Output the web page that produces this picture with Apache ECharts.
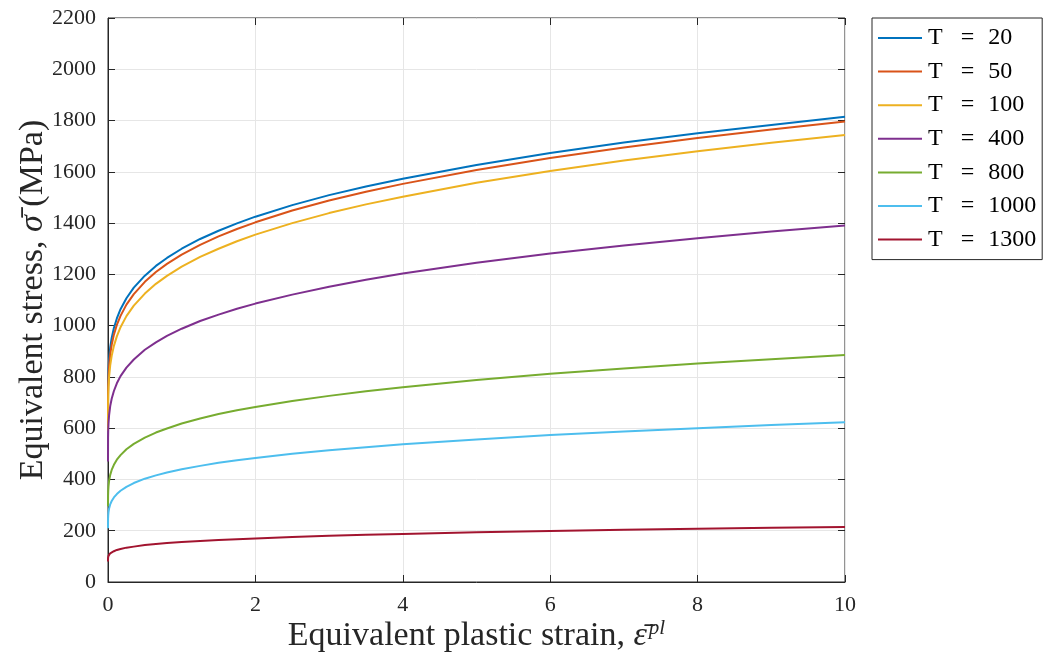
<!DOCTYPE html>
<html><head><meta charset="utf-8">
<script src="https://cdn.jsdelivr.net/npm/echarts@6/dist/echarts.min.js"></script>
<style>html,body{margin:0;padding:0;background:#fff}#c{width:1048px;height:658px}</style>
</head><body><div id="c"></div>
<script>
// ---- data ----
const strain = [0, 0.001, 0.003, 0.007, 0.015, 0.03, 0.05, 0.08, 0.12, 0.17, 0.25, 0.35, 0.5, 0.65, 0.8, 1, 1.25, 1.5, 1.75, 2, 2.5, 3, 3.5, 4, 5, 6, 7, 8, 9, 10];
const seriesNames = ['T = 20', 'T = 50', 'T = 100', 'T = 400', 'T = 800', 'T = 1000', 'T = 1300'];
const stressT20   = [640, 757, 794, 831, 871, 915, 952, 991, 1028, 1064, 1107, 1148, 1195, 1233, 1264, 1300, 1338, 1370, 1399, 1425, 1470, 1509, 1543, 1573, 1627, 1673, 1714, 1750, 1783, 1815];
const stressT50   = [610, 729, 766, 803, 843, 888, 925, 965, 1003, 1038, 1082, 1123, 1171, 1209, 1241, 1277, 1315, 1348, 1377, 1403, 1449, 1488, 1522, 1553, 1607, 1654, 1695, 1732, 1765, 1796];
const stressT100  = [590, 687, 724, 761, 801, 845, 882, 921, 958, 994, 1037, 1078, 1125, 1163, 1194, 1230, 1268, 1300, 1329, 1355, 1400, 1439, 1473, 1503, 1557, 1603, 1644, 1680, 1713, 1744];
const stressT400  = [470, 562, 591, 620, 651, 686, 715, 745, 775, 803, 836, 868, 906, 935, 960, 988, 1018, 1043, 1066, 1086, 1121, 1152, 1179, 1203, 1245, 1281, 1313, 1341, 1367, 1391];
const stressT800  = [295, 336, 355, 374, 395, 418, 437, 457, 477, 495, 518, 539, 563, 583, 599, 618, 638, 655, 670, 683, 706, 726, 744, 760, 788, 812, 833, 852, 869, 885];
const stressT1000 = [210, 247, 260, 273, 287, 303, 316, 330, 343, 356, 371, 386, 403, 416, 427, 440, 453, 465, 475, 484, 500, 514, 526, 537, 556, 573, 587, 600, 612, 623];
const stressT1300 = [80, 94, 98, 102, 107, 112, 116, 120, 125, 129, 134, 138, 144, 148, 152, 156, 160, 164, 167, 170, 176, 180, 184, 187, 194, 199, 204, 208, 212, 215];
const xTickInterval = 2, xMin = 0, xMax = 10;
const yTickInterval = 200, yMin = 0, yMax = 2200;

// ---- styles ----
const allStress = [stressT20, stressT50, stressT100, stressT400, stressT800, stressT1000, stressT1300];
const colors = ['#0072BD', '#D95319', '#EDB120', '#7E2F8E', '#77AC30', '#4DBEEE', '#A2142F'];
const F = '"Liberation Serif", "Times New Roman", serif';
const INK = '#262626';
const GRID = '#e6e6e6';

const chart = echarts.init(document.getElementById('c'), null, {renderer: 'canvas'});

const series = allStress.map((vals, k) => ({
  name: seriesNames[k],
  type: 'line',
  xAxisIndex: 0, yAxisIndex: 0,
  data: strain.map((x, i) => [x, vals[i]]),
  symbol: 'none',
  showSymbol: false,
  smooth: false,
  lineStyle: {color: colors[k], width: 2, join: 'round'},
  itemStyle: {color: colors[k]},
  z: 3 + k,
  animation: false
}));

const baseAxis = (min, max, interval) => ({
  type: 'value', min, max, interval,
  axisLine: {show: true, onZero: false, lineStyle: {color: INK, width: 1}},
  axisTick: {show: true, inside: true, length: 7, lineStyle: {color: INK, width: 1}},
  minorTick: {show: false},
  splitLine: {show: false}
});

const option = {
  animation: false,
  backgroundColor: '#ffffff',
  color: colors,
  grid: {left: 108, right: 203, top: 18, bottom: 76, containLabel: false,
         show: true, borderColor: INK, borderWidth: 1, backgroundColor: 'transparent'},
  legend: {
    orient: 'vertical',
    left: 872, top: 18,
    data: seriesNames,
    icon: 'rect',
    itemWidth: 44, itemHeight: 2, itemGap: 9.6,
    padding: [8, 6, 8, 6],
    borderColor: INK, borderWidth: 1, backgroundColor: '#fff',
    formatter: n => n.replace(' = ', ' \u2002=\u2002\u200A'),
    textStyle: {fontFamily: F, fontSize: 24, color: '#000', lineHeight: 24, padding: [0, 0, 0, 1]},
    selectedMode: false
  },
  xAxis: [
    Object.assign(baseAxis(xMin, xMax, xTickInterval), {
      position: 'bottom',
      axisLabel: {color: INK, fontFamily: F, fontSize: 22, margin: 12, formatter: v => String(v)},
      splitLine: {show: true, lineStyle: {color: GRID, width: 1}},
      name: '{a|Equivalent plastic strain, }{b|ε\u0304}{c|pl}',
      nameLocation: 'middle', nameGap: 36,
      nameMoveOverlap: false,
      nameTextStyle: {
        fontFamily: F, fontSize: 34, color: INK,
        rich: {
          a: {fontFamily: F, fontSize: 34, color: INK, lineHeight: 36},
          b: {fontFamily: F, fontSize: 34, color: INK, fontStyle: 'italic', lineHeight: 36, padding: [0, 2, 0, 0]},
          c: {fontFamily: F, fontSize: 21, color: INK, fontStyle: 'italic', lineHeight: 20, verticalAlign: 'top'}
        }
      }
    }),
    Object.assign(baseAxis(xMin, xMax, xTickInterval), {
      position: 'top', axisLine: {show: false, onZero: false}, axisLabel: {show: false}
    })
  ],
  yAxis: [
    Object.assign(baseAxis(yMin, yMax, yTickInterval), {
      position: 'left',
      axisLabel: {color: INK, fontFamily: F, fontSize: 22, margin: 12, formatter: v => String(v)},
      splitLine: {show: true, lineStyle: {color: GRID, width: 1}},
      name: '{a|Equivalent stress, }{b|σ\u0304}{a| (MPa)}',
      nameLocation: 'middle', nameGap: 58, nameRotate: 90,
      nameMoveOverlap: false,
      nameTextStyle: {
        fontFamily: F, fontSize: 34, color: INK,
        rich: {
          a: {fontFamily: F, fontSize: 34, color: INK},
          b: {fontFamily: F, fontSize: 34, color: INK, fontStyle: 'italic'}
        }
      }
    }),
    Object.assign(baseAxis(yMin, yMax, yTickInterval), {
      position: 'right', axisLine: {show: false, onZero: false}, axisLabel: {show: false}
    })
  ],
  series
};
chart.setOption(option);
</script>
</body></html>
